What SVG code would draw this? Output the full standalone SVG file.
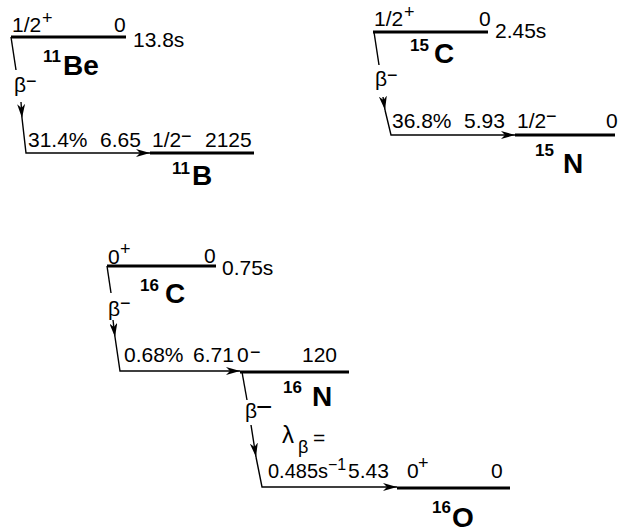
<svg xmlns="http://www.w3.org/2000/svg" width="620" height="529" viewBox="0 0 620 529">
<style>
.t{font-family:"Liberation Sans",Arial,sans-serif;font-size:21px;fill:#000}
.s{font-family:"Liberation Sans",Arial,sans-serif;font-size:18px;fill:#000}
.m{font-family:"Liberation Sans",Arial,sans-serif;font-size:17px;font-weight:bold;fill:#000}
.e{font-family:"Liberation Sans",Arial,sans-serif;font-size:28px;font-weight:bold;fill:#000}
.lvl{stroke:#000;stroke-width:3;fill:none}
.c{stroke:#000;stroke-width:1.4;fill:none}
</style>
<defs>
<marker id="ah" viewBox="0 0 14 8" refX="14" refY="4" markerWidth="14" markerHeight="8" markerUnits="userSpaceOnUse" orient="auto">
<path d="M0,0 L14,4 L0,8 L4,4 z" fill="#000"/>
</marker>
</defs>
<rect width="620" height="529" fill="#fff"/>

<g id="be11">
<line class="lvl" x1="11" y1="37" x2="126" y2="37"/>
<text class="t" x="12" y="32">1/2</text><text class="s" x="42" y="24">+</text>
<text class="t" x="114" y="32">0</text>
<text class="t" x="133" y="47">13.8s</text>
<text class="m" x="43" y="62">11</text><text class="e" x="63" y="75">Be</text>
</g>

<g id="b11">
<line class="lvl" x1="150" y1="153" x2="254" y2="153"/>
<text class="t" x="152" y="147">1/2</text><text class="s" x="181" y="142">−</text>
<text class="t" x="205" y="147">2125</text>
<text class="m" x="172" y="174">11</text><text class="e" x="192" y="185">B</text>
</g>

<g id="c15">
<line class="lvl" x1="373" y1="32" x2="488" y2="32"/>
<text class="t" x="374" y="26">1/2</text><text class="s" x="404" y="18">+</text>
<text class="t" x="479" y="26">0</text>
<text class="t" x="495" y="38">2.45s</text>
<text class="m" x="410" y="51">15</text><text class="e" x="434" y="63">C</text>
</g>

<g id="n15">
<line class="lvl" x1="515" y1="135" x2="615" y2="135"/>
<text class="t" x="517" y="128">1/2</text><text class="s" x="546" y="122">−</text>
<text class="t" x="606" y="128">0</text>
<text class="m" x="535" y="156">15</text><text class="e" x="563" y="173">N</text>
</g>

<g id="c16">
<line class="lvl" x1="107" y1="266" x2="216" y2="266"/>
<text class="t" x="108" y="264">0</text><text class="s" x="120" y="255">+</text>
<text class="t" x="204" y="263">0</text>
<text class="t" x="222" y="275">0.75s</text>
<text class="m" x="140" y="291">16</text><text class="e" x="165" y="303">C</text>
</g>

<g id="n16">
<line class="lvl" x1="240" y1="372" x2="349" y2="372"/>
<text class="t" x="237" y="362">0</text><text class="s" x="250" y="358">−</text>
<text class="t" x="302" y="362">120</text>
<text class="m" x="283" y="393">16</text><text class="e" x="312" y="406">N</text>
</g>

<g id="o16">
<line class="lvl" x1="397" y1="488" x2="510" y2="488"/>
<text class="t" x="407" y="478">0</text><text class="s" x="418" y="469">+</text>
<text class="t" x="491" y="478">0</text>
<text class="m" x="432" y="513">16</text><text class="e" x="452" y="527">O</text>
</g>

<g id="connectors">
<path class="c" d="M11,37 L16,70"/>
<path class="c" d="M21,102 L22,118" marker-end="url(#ah)"/>
<path class="c" d="M22,118 L26,153 L150,153" marker-end="url(#ah)"/>
<text class="t" x="14" y="92">β</text><text class="s" x="26" y="87">−</text>
<text class="t" x="28" y="147">31.4%</text>
<text class="t" x="100" y="147">6.65</text>

<path class="c" d="M374,32 L379,65"/>
<path class="c" d="M383,97 L385,110" marker-end="url(#ah)"/>
<path class="c" d="M385,110 L391,135 L515,135" marker-end="url(#ah)"/>
<text class="t" x="375" y="86">β</text><text class="s" x="387" y="81">−</text>
<text class="t" x="392" y="128">36.8%</text>
<text class="t" x="464" y="128">5.93</text>

<path class="c" d="M107,266 L111,293"/>
<path class="c" d="M113,320 L115,337" marker-end="url(#ah)"/>
<path class="c" d="M115,337 L120,371 L240,371" marker-end="url(#ah)"/>
<text class="t" x="108" y="316">β</text><text class="s" x="120" y="309">−</text>
<text class="t" x="124" y="362">0.68%</text>
<text class="t" x="193" y="362">6.71</text>

<path class="c" d="M242,372 L247,400"/>
<path class="c" d="M251,425 L256,457" marker-end="url(#ah)"/>
<path class="c" d="M256,457 L262,487 L397,487" marker-end="url(#ah)"/>
<text class="t" x="245" y="418">β</text><text class="t" x="256" y="416" style="font-size:28px">−</text>
<text class="t" x="282" y="443" style="font-size:24px">λ</text><text class="s" x="298" y="453">β</text><text class="t" x="313" y="445">=</text>
<text class="t" x="268" y="478" style="font-size:20px">0.485s</text><text class="s" x="328" y="470" style="font-size:16px">−1</text>
<text class="t" x="348" y="478">5.43</text>
</g>
</svg>
